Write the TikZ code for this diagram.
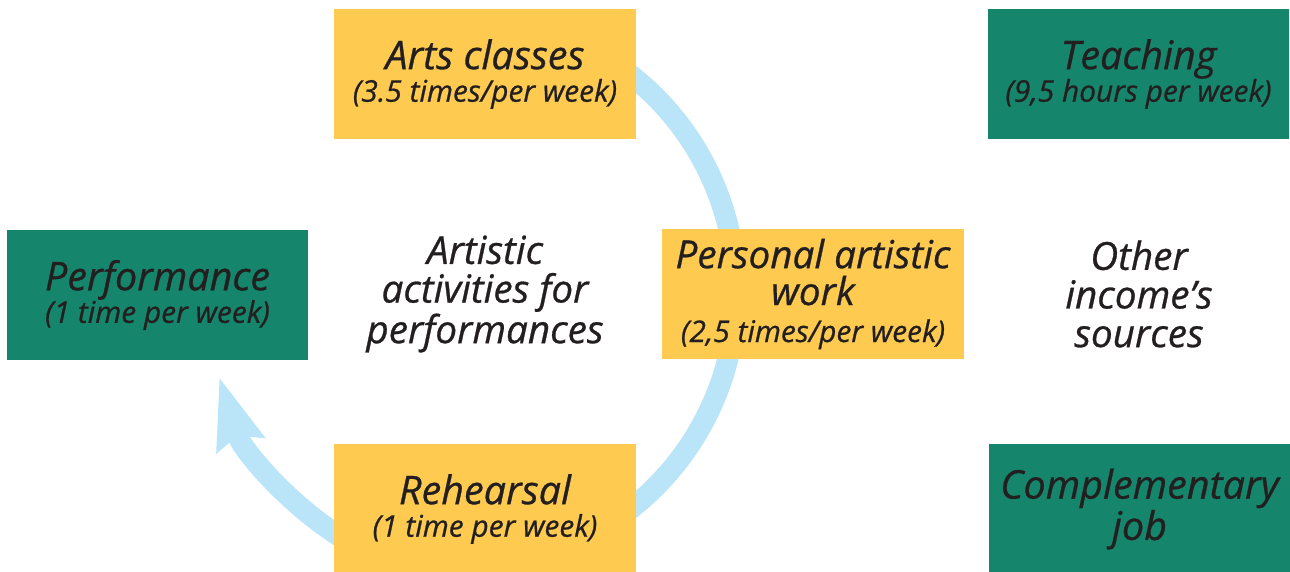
\documentclass[tikz,border=0pt]{standalone}
\usepackage{fontspec}
\setmainfont{Open Sans}[ItalicFeatures={FakeBold=0.7}]
\usetikzlibrary{arrows.meta}
\usetikzlibrary{backgrounds}
\definecolor{boxyellow}{RGB}{254,203,80}
\definecolor{boxgreen}{RGB}{21,133,108}
\definecolor{bandblue}{RGB}{186,228,248}
\definecolor{inkgray}{RGB}{35,31,32}
\newcommand{\boxsub}{\fontsize{17}{18}\selectfont}
\tikzset{
	actbox/.style={fill=boxyellow, minimum width=6.04cm, minimum height=2.6cm, inner sep=0pt, align=center},
	jobbox/.style={actbox, fill=boxgreen},
	freetext/.style={align=center, font=\fontsize{22}{22}\selectfont\itshape},
	band/.style={draw=bandblue, line width=0.42cm}
}

\begin{document}
\begin{tikzpicture}[x=0.02cm, y=-0.02cm, every node/.style={text=inkgray, font=\fontsize{22.5}{18.5}\selectfont\itshape}]
	\useasboundingbox (0,0) rectangle (1290,571);

	% --- artistic activities ---
	\node[actbox]	(arts)		at (485,74)	{Arts classes\\{\boxsub (3.5 times/per week)}};
	\node[actbox, font=\fontsize{22}{21}\selectfont\itshape]	(personal)	at (813,294)	{Personal artistic\\work\\{\boxsub (2,5 times/per week)}};
	\node[actbox]	(rehearsal)	at (485,509)	{Rehearsal\\{\boxsub (1 time per week)}};
	\node[jobbox]	(perf)		at (157.5,295)	{Performance\\{\boxsub (1 time per week)}};
	\node[freetext]	(artistic)	at (485,294)	{Artistic\\activities for\\performances};

	% --- other income ---
	\node[jobbox]	(teach)		at (1138.5,74)	{Teaching\\{\boxsub (9,5 hours per week)}};
	\node[jobbox, font=\fontsize{22.5}{22}\selectfont\itshape]	(complementary)	at (1139.5,509)	{Complementary\\job};
	\node[freetext]	(other)		at (1139,294)	{Other\\income’s\\sources};

	% --- cycle ---
	\coordinate (hub) at (460,292);
	\coordinate (hubleft) at (500,290);
	\begin{scope}[on background layer]
		\draw[band] ([shift={(-60:276)}]hub) arc[start angle=-60, end angle=60, radius=276];
		\draw[band, -{Stealth[length=1.42cm, width=1.04cm, inset=0.22cm, line width=0pt]}] ([shift={(120:294)}]hubleft) arc[start angle=120, end angle=162.5, radius=294];
	\end{scope}

\end{tikzpicture}
\end{document}
